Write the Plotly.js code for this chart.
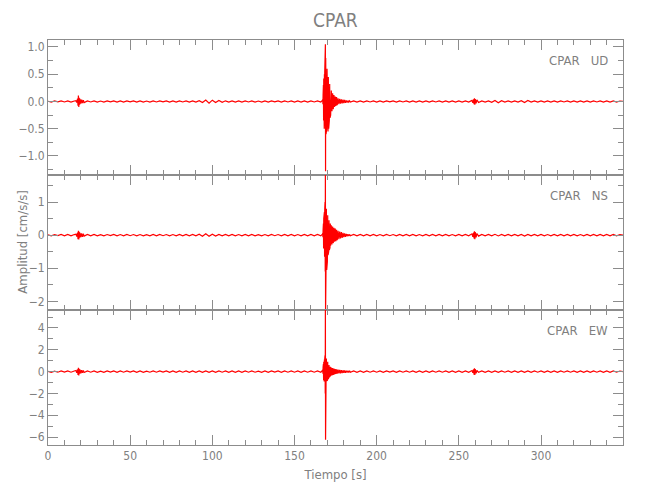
<!DOCTYPE html>
<html>
<head>
<meta charset="utf-8">
<script src="https://cdn.plot.ly/plotly-3.0.1.min.js"></script>
<style>html,body{margin:0;padding:0;background:#fff;}</style>
</head>
<body>
<div id="chart" style="width:650px;height:500px;"></div>
<script>
// Station and components
const estacion = 'CPAR';
const componentes = ['UD', 'NS', 'EW'];

// Time samples [s]
const tiempo = [
  0,2,4,6,8,10,12,14,16,
  17,17.5,18,18.25,18.5,18.75,19,19.25,19.5,20,20.5,21,21.5,22,
  24,26,28,30,32,34,36,38,40,42,44,46,
  48,50,52,54,56,58,60,62,64,66,68,70,
  72,74,76,78,80,82,84,86,88,90,92,94,
  96,98,100,102,104,106,108,110,112,114,116,118,
  120,122,124,126,128,130,132,134,136,138,140,142,
  144,146,148,150,152,154,156,158,160,162,164,166,
  167,167.1,167.2,167.3,167.4,167.5,167.6,167.7,167.8,167.9,168,168.1,168.2,168.3,168.4,168.5,168.6,168.7,168.8,168.9,169,
  169.2,169.4,169.6,169.8,170,170.2,170.4,170.6,170.8,171,171.2,171.4,171.6,171.8,172,
  172.4,172.8,173.2,173.6,174,174.4,174.8,175.2,175.6,176,
  176.5,177,177.5,178,178.5,179,179.5,180,180.5,181,181.5,182,182.5,183,183.5,184,
  186,188,190,192,194,196,198,200,202,204,206,208,
  210,212,214,216,218,220,222,224,226,228,230,232,
  234,236,238,240,242,244,246,248,250,252,254,256,
  258,258.5,259,259.25,259.5,259.75,260,260.5,261,262,
  264,266,268,270,272,274,276,278,280,282,284,286,288,290,292,294,296,298,300,302,304,306,
  308,310,312,314,316,318,320,322,324,326,328,330,332,334,336,338,340,342,344,346,348,350
];

// Acceleration UD [cm/s/s]
const ud = [
  0.005,-0.01,0.009,-0.008,0.01,-0.009,0.011,-0.01,0.009,
  0.015,-0.02,0.05,-0.08,0.11,-0.1,0.07,-0.06,0.05,-0.04,0.035,-0.03,0.025,-0.02,
  0.01,-0.009,0.011,-0.01,0.008,-0.011,0.01,-0.008,0.011,-0.01,0.009,-0.01,
  0.01,-0.008,0.01,-0.011,0.009,-0.01,0.008,-0.01,0.011,-0.009,0.01,-0.008,
  0.01,-0.01,0.009,-0.011,0.01,-0.009,0.011,-0.01,0.01,-0.011,0.014,-0.02,
  0.025,-0.03,0.024,-0.02,0.018,-0.015,0.012,-0.01,0.01,-0.011,0.009,-0.01,
  0.01,-0.009,0.011,-0.01,0.008,-0.01,0.009,-0.011,0.01,-0.008,0.01,-0.01,
  0.011,-0.009,0.01,-0.01,0.009,-0.01,0.011,-0.01,0.01,-0.009,0.011,-0.01,
  0.02,-0.03,0.04,-0.05,0.12,-0.15,0.3,-0.35,0.42,-0.4,0.45,-0.5,0.5,-0.45,0.55,-0.6,0.7,-0.9,1.05,-1.28,0.8,
  -0.6,0.65,-0.5,0.6,-0.45,0.5,-0.55,0.45,-0.5,0.38,-0.35,0.32,-0.3,0.28,-0.25,
  0.2,-0.18,0.15,-0.14,0.12,-0.1,0.09,-0.08,0.08,-0.07,
  0.06,-0.05,0.05,-0.04,0.04,-0.035,0.035,-0.03,0.03,-0.025,0.02,-0.02,0.015,-0.012,0.012,-0.01,
  0.01,-0.011,0.01,-0.01,0.011,-0.009,0.01,-0.01,0.009,-0.011,0.01,-0.008,
  0.01,-0.01,0.011,-0.009,0.01,-0.01,0.011,-0.01,0.009,-0.01,0.01,-0.011,
  0.01,-0.009,0.011,-0.01,0.01,-0.011,0.009,-0.01,0.01,-0.011,0.01,-0.011,
  0.02,-0.025,0.04,-0.05,0.06,-0.06,0.045,-0.035,0.03,-0.02,
  0.011,-0.01,0.011,-0.015,0.02,-0.022,0.015,-0.01,0.01,-0.011,0.01,-0.011,0.016,-0.02,0.018,-0.012,0.01,-0.01,0.011,-0.01,0.009,-0.01,
  0.01,-0.011,0.01,-0.009,0.011,-0.01,0.01,-0.011,0.009,-0.01,0.01,-0.011,0.01,-0.009,0.011,-0.01,0.01,-0.011,0.01,-0.01,0.009,0.0
];

// Acceleration NS [cm/s/s]
const ns = [
  0.01,-0.02,0.018,-0.015,0.02,-0.018,0.021,-0.019,0.018,
  0.03,-0.04,0.08,-0.12,0.13,-0.13,0.1,-0.08,0.07,-0.06,0.05,-0.05,0.04,-0.03,
  0.02,-0.018,0.021,-0.02,0.017,-0.022,0.019,-0.016,0.021,-0.02,0.018,-0.019,
  0.02,-0.017,0.019,-0.021,0.018,-0.02,0.016,-0.019,0.021,-0.018,0.02,-0.017,
  0.019,-0.02,0.018,-0.021,0.02,-0.018,0.022,-0.02,0.019,-0.022,0.028,-0.035,
  0.04,-0.035,0.03,-0.025,0.02,-0.019,0.022,-0.02,0.019,-0.021,0.018,-0.02,
  0.02,-0.018,0.021,-0.019,0.017,-0.02,0.018,-0.021,0.02,-0.017,0.019,-0.02,
  0.021,-0.018,0.02,-0.019,0.018,-0.02,0.022,-0.019,0.02,-0.018,0.021,-0.02,
  0.03,-0.04,0.05,-0.06,0.15,-0.2,0.35,-0.4,0.5,-0.55,0.6,-0.6,0.7,-0.65,0.8,-0.7,1.0,-1.1,1.95,-2.4,1.05,
  -0.9,0.8,-1.05,0.7,-0.8,0.6,-0.6,0.55,-0.5,0.45,-0.45,0.4,-0.38,0.35,-0.32,
  0.3,-0.28,0.26,-0.24,0.22,-0.2,0.2,-0.18,0.16,-0.15,
  0.13,-0.12,0.11,-0.1,0.09,-0.08,0.07,-0.06,0.05,-0.05,0.04,-0.035,0.03,-0.025,0.022,-0.02,
  0.02,-0.022,0.019,-0.02,0.021,-0.018,0.02,-0.019,0.018,-0.021,0.02,-0.017,
  0.019,-0.02,0.022,-0.018,0.02,-0.019,0.021,-0.02,0.018,-0.02,0.019,-0.021,
  0.02,-0.018,0.021,-0.019,0.02,-0.022,0.018,-0.02,0.019,-0.021,0.02,-0.022,
  0.04,-0.05,0.08,-0.1,0.12,-0.12,0.09,-0.07,0.05,-0.03,
  0.022,-0.02,0.021,-0.023,0.025,-0.024,0.022,-0.02,0.019,-0.021,0.02,-0.022,0.023,-0.025,0.024,-0.022,0.02,-0.019,0.021,-0.02,0.018,-0.02,
  0.019,-0.021,0.02,-0.018,0.021,-0.019,0.02,-0.022,0.018,-0.02,0.019,-0.021,0.02,-0.018,0.021,-0.02,0.019,-0.021,0.02,-0.019,0.018,0.0
];

// Acceleration EW [cm/s/s]
const ew = [
  0.03,-0.06,0.05,-0.055,0.06,-0.05,0.065,-0.055,0.06,
  0.1,-0.12,0.2,-0.3,0.35,-0.35,0.25,-0.2,0.18,-0.15,0.14,-0.12,0.1,-0.08,
  0.06,-0.055,0.065,-0.06,0.05,-0.065,0.055,-0.05,0.06,-0.06,0.055,-0.055,
  0.06,-0.05,0.055,-0.065,0.055,-0.06,0.05,-0.055,0.065,-0.055,0.06,-0.05,
  0.055,-0.06,0.055,-0.065,0.06,-0.055,0.065,-0.06,0.055,-0.065,0.06,-0.065,
  0.07,-0.065,0.06,-0.06,0.06,-0.055,0.065,-0.06,0.055,-0.06,0.055,-0.06,
  0.06,-0.055,0.065,-0.055,0.05,-0.06,0.055,-0.065,0.06,-0.05,0.055,-0.06,
  0.065,-0.055,0.06,-0.055,0.055,-0.06,0.065,-0.055,0.06,-0.055,0.065,-0.06,
  0.1,-0.12,0.15,-0.2,0.4,-0.5,0.7,-0.8,0.9,-0.9,1.0,-0.9,1.1,-0.8,1.2,-0.9,1.5,-2.0,6.0,-6.24,1.3,
  -0.9,1.2,-0.85,1.0,-0.8,0.9,-0.7,0.75,-0.6,0.6,-0.5,0.5,-0.45,0.45,-0.4,
  0.38,-0.35,0.32,-0.3,0.28,-0.26,0.24,-0.22,0.2,-0.19,
  0.18,-0.17,0.16,-0.15,0.14,-0.13,0.12,-0.11,0.1,-0.1,0.09,-0.08,0.08,-0.07,0.07,-0.06,
  0.06,-0.065,0.055,-0.06,0.065,-0.055,0.06,-0.055,0.055,-0.065,0.06,-0.05,
  0.055,-0.06,0.065,-0.055,0.06,-0.055,0.065,-0.06,0.055,-0.06,0.055,-0.065,
  0.06,-0.055,0.065,-0.055,0.06,-0.065,0.055,-0.06,0.055,-0.065,0.06,-0.065,
  0.1,-0.12,0.2,-0.28,0.3,-0.3,0.22,-0.15,0.1,-0.07,
  0.065,-0.06,0.06,-0.065,0.06,-0.065,0.06,-0.055,0.055,-0.06,0.06,-0.065,0.06,-0.065,0.06,-0.06,0.06,-0.055,0.065,-0.06,0.055,-0.06,
  0.055,-0.065,0.06,-0.055,0.065,-0.055,0.06,-0.065,0.055,-0.06,0.055,-0.065,0.06,-0.055,0.065,-0.06,0.055,-0.065,0.06,-0.055,0.055,0.0
];

const series = [ud, ns, ew];
const fuente = '"DejaVu Sans Condensed", "DejaVu Sans", sans-serif';
const gris = '#808080';
const lineaEje = '#8c8c8c';

const traces = series.map((vals, i) => ({
  type: 'scatter', mode: 'lines',
  x: tiempo, y: vals,
  xaxis: i === 0 ? 'x' : 'x' + (i + 1),
  yaxis: i === 0 ? 'y' : 'y' + (i + 1),
  line: {color: '#ff0000', width: 1.2},
  hoverinfo: 'skip', showlegend: false
}));

function xAxis(showLabels) {
  return {
    range: [0, 349.9], dtick: 50, tick0: 0,
    showgrid: false, zeroline: false,
    showline: true, linecolor: lineaEje, linewidth: 1, mirror: 'allticks',
    ticks: 'inside', ticklen: 10, tickcolor: lineaEje, tickwidth: 1,
    minor: {dtick: 10, ticks: 'inside', ticklen: 5, tickcolor: lineaEje, showgrid: false},
    showticklabels: showLabels,
    tickfont: {family: fuente, size: 12, color: gris}
  };
}
function yAxis(domain, range, dtick, minor, fmt) {
  return {
    domain: domain, range: range, dtick: dtick, tick0: 0,
    showgrid: false, zeroline: false,
    showline: true, linecolor: lineaEje, linewidth: 1, mirror: 'allticks',
    ticks: 'inside', ticklen: 10, tickcolor: lineaEje, tickwidth: 1,
    minor: {dtick: minor, ticks: 'inside', ticklen: 5, tickcolor: lineaEje, showgrid: false},
    tickformat: fmt,
    tickfont: {family: fuente, size: 12, color: gris}
  };
}

const xa1 = xAxis(false); xa1.anchor = 'y';
const xa2 = xAxis(false); xa2.anchor = 'y2'; xa2.matches = 'x';
const xa3 = xAxis(true); xa3.anchor = 'y3'; xa3.matches = 'x';
xa3.title = {text: 'Tiempo [s]', font: {family: fuente, size: 13, color: gris}, standoff: 7};

const ya1 = yAxis([2/3, 1], [-1.349, 1.128], 0.5, 0.25, '.1f'); ya1.anchor = 'x';
const ya2 = yAxis([1/3, 2/3], [-2.26, 1.816], 1, 0.5, 'd'); ya2.anchor = 'x2';
const ya3 = yAxis([0, 1/3], [-6.73, 5.65], 2, 1, 'd'); ya3.anchor = 'x3';

const annotations = componentes.map((c, i) => ({
  text: estacion + '\u00a0\u00a0\u00a0' + c,
  xref: 'paper', x: 0.977, xanchor: 'right',
  yref: (i === 0 ? 'y' : 'y' + (i + 1)) + ' domain', y: 0.847, yanchor: 'middle',
  showarrow: false,
  font: {family: fuente, size: 13, color: gris}
}));
// Y-axis title (shared), centred on the middle panel
annotations.push({
  text: 'Amplitud [cm/s/s]', textangle: -90,
  xref: 'paper', x: -0.045, xanchor: 'center',
  yref: 'y2 domain', y: 0.5, yanchor: 'middle',
  showarrow: false,
  font: {family: fuente, size: 13, color: gris}
});

const layout = {
  width: 650, height: 500,
  margin: {l: 48, r: 27, t: 40, b: 55},
  paper_bgcolor: '#ffffff', plot_bgcolor: '#ffffff',
  title: {text: estacion, x: 0.516, xanchor: 'center', y: 0.96, yanchor: 'middle',
          font: {family: fuente, size: 19, color: gris}},
  xaxis: xa1, xaxis2: xa2, xaxis3: xa3,
  yaxis: ya1, yaxis2: ya2, yaxis3: ya3,
  annotations: annotations,
  showlegend: false
};

Plotly.newPlot('chart', traces, layout, {displayModeBar: false, staticPlot: true});
</script>
</body>
</html>
